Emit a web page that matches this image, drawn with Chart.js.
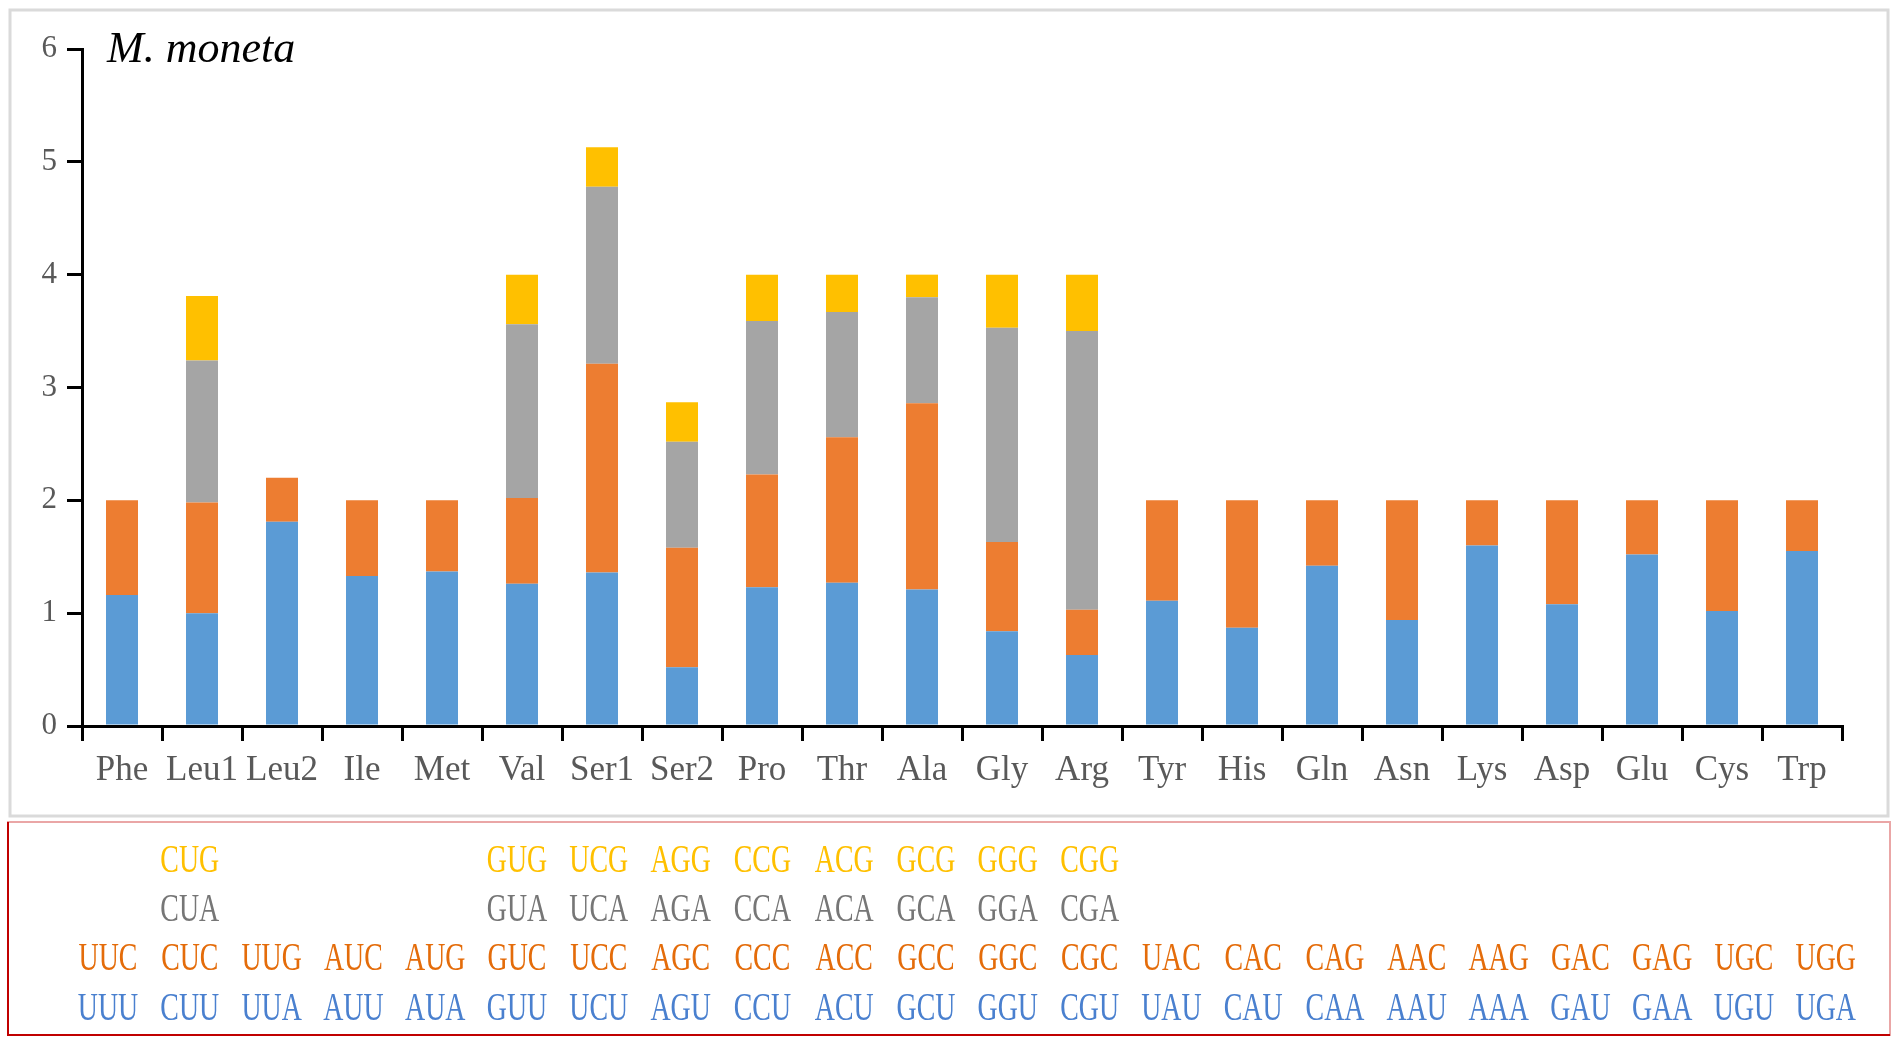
<!DOCTYPE html>
<html>
<head>
<meta charset="utf-8">
<script src="https://cdn.jsdelivr.net/npm/chart.js@4.4.1/dist/chart.umd.min.js"></script>
<style>
  html, body { margin: 0; padding: 0; background: #fff; }
  #wrap { width: 1902px; height: 1047px; }
</style>
</head>
<body>
<div id="wrap"><canvas id="rscuChart" width="1902" height="1047"></canvas></div>
<script>
// amino acids on the x axis
const aminoAcids = ['Phe','Leu1','Leu2','Ile','Met','Val','Ser1','Ser2','Pro','Thr','Ala',
                    'Gly','Arg','Tyr','His','Gln','Asn','Lys','Asp','Glu','Cys','Trp'];

// RSCU per codon, bottom to top of each stack
const rscuBlue   = [1.16, 1.00, 1.81, 1.33, 1.37, 1.26, 1.36, 0.52, 1.23, 1.27, 1.21,
                    0.84, 0.63, 1.11, 0.87, 1.42, 0.94, 1.60, 1.08, 1.52, 1.02, 1.55];
const rscuOrange = [0.84, 0.98, 0.39, 0.67, 0.63, 0.76, 1.85, 1.06, 1.00, 1.29, 1.65,
                    0.79, 0.40, 0.89, 1.13, 0.58, 1.06, 0.40, 0.92, 0.48, 0.98, 0.45];
const rscuGray   = [null, 1.26, null, null, null, 1.54, 1.57, 0.94, 1.36, 1.11, 0.94,
                    1.90, 2.47, null, null, null, null, null, null, null, null, null];
const rscuYellow = [null, 0.57, null, null, null, 0.44, 0.35, 0.35, 0.41, 0.33, 0.20,
                    0.47, 0.50, null, null, null, null, null, null, null, null, null];

// codon table under the chart
const codonsBlue   = ['UUU','CUU','UUA','AUU','AUA','GUU','UCU','AGU','CCU','ACU','GCU',
                      'GGU','CGU','UAU','CAU','CAA','AAU','AAA','GAU','GAA','UGU','UGA'];
const codonsOrange = ['UUC','CUC','UUG','AUC','AUG','GUC','UCC','AGC','CCC','ACC','GCC',
                      'GGC','CGC','UAC','CAC','CAG','AAC','AAG','GAC','GAG','UGC','UGG'];
const codonsGray   = ['','CUA','','','','GUA','UCA','AGA','CCA','ACA','GCA',
                      'GGA','CGA','','','','','','','','',''];
const codonsYellow = ['','CUG','','','','GUG','UCG','AGG','CCG','ACG','GCG',
                      'GGG','CGG','','','','','','','','',''];

const yTicks = [0, 1, 2, 3, 4, 5, 6];
const speciesName = 'M. moneta';

const colBlue = '#5B9BD5', colOrange = '#ED7D31', colGray = '#A5A5A5', colYellow = '#FFC000';
const serif = '"Liberation Serif", "Times New Roman", Times, "DejaVu Serif", serif';

// frames, title and the codon table
const decorPlugin = {
  id: 'decor',
  beforeDraw(chart) {
    const ctx = chart.ctx;
    ctx.save();
    ctx.fillStyle = '#fff';
    ctx.fillRect(0, 0, chart.width, chart.height);
    ctx.strokeStyle = '#dadada';
    ctx.lineWidth = 3;
    ctx.strokeRect(10, 10, 1878, 806);
    ctx.lineWidth = 2;
    ctx.strokeStyle = '#eaa6a6';
    ctx.strokeRect(8, 822, 1882, 213);
    ctx.strokeStyle = '#c00000';
    ctx.beginPath();
    ctx.moveTo(8, 822);
    ctx.lineTo(8, 1035);
    ctx.lineTo(1890, 1035);
    ctx.stroke();
    ctx.restore();
  },
  afterDraw(chart) {
    const ctx = chart.ctx;
    ctx.save();
    ctx.fillStyle = '#000';
    ctx.font = 'italic 44px ' + serif;
    ctx.textAlign = 'left';
    ctx.textBaseline = 'alphabetic';
    ctx.fillText(speciesName, 107, 62);

    const rows = [
      [codonsYellow, '#FFC000', 872],
      [codonsGray, '#767676', 921],
      [codonsOrange, '#E46C0A', 970],
      [codonsBlue, '#4A80CF', 1020]
    ];
    ctx.font = '41px ' + serif;
    ctx.textAlign = 'center';
    rows.forEach(([list, color, base]) => {
      ctx.fillStyle = color;
      list.forEach((t, i) => {
        if (!t) return;
        ctx.save();
        ctx.translate(108 + i * 81.8, base);
        ctx.scale(0.68, 1);
        ctx.fillText(t, 0, 0);
        ctx.restore();
      });
    });
    ctx.restore();
  }
};

new Chart(document.getElementById('rscuChart'), {
  type: 'bar',
  data: {
    labels: aminoAcids,
    datasets: [
      { label: 'codon1', data: rscuBlue, backgroundColor: colBlue },
      { label: 'codon2', data: rscuOrange, backgroundColor: colOrange },
      { label: 'codon3', data: rscuGray, backgroundColor: colGray },
      { label: 'codon4', data: rscuYellow, backgroundColor: colYellow }
    ]
  },
  options: {
    responsive: false,
    animation: false,
    devicePixelRatio: 1,
    layout: { padding: { top: 49, right: 60, bottom: 231, left: 0 } },
    datasets: { bar: { barPercentage: 0.4, categoryPercentage: 1, borderWidth: 0 } },
    plugins: { legend: { display: false }, tooltip: { enabled: false } },
    scales: {
      x: {
        stacked: true,
        afterFit: s => { s.height = 90; },
        grid: { display: true, drawOnChartArea: false, drawTicks: true, tickLength: 15,
                color: '#000', lineWidth: 3, offset: true },
        border: { display: true, color: '#000', width: 3 },
        ticks: { color: '#595959', padding: 9, maxRotation: 0, autoSkip: false,
                 font: { family: serif, size: 35 } }
      },
      y: {
        stacked: true,
        min: 0,
        max: 6,
        afterFit: s => { s.width = 82; },
        afterBuildTicks: s => { s.ticks = yTicks.map(v => ({ value: v })); },
        grid: { display: true, drawOnChartArea: false, drawTicks: true, tickLength: 15,
                color: '#000', lineWidth: 3 },
        border: { display: true, color: '#000', width: 3 },
        ticks: { color: '#595959', padding: 10,
                 font: { family: serif, size: 31 } }
      }
    }
  },
  plugins: [decorPlugin]
});
</script>
</body>
</html>
